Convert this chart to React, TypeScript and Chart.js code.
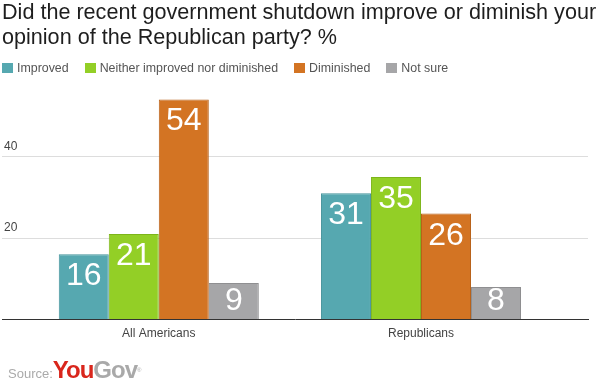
import React, { useEffect, useRef } from "react";
import { Chart, registerables } from "chart.js";

Chart.register(...registerables);

const FONT = '"Liberation Sans", Arial, sans-serif';

const titleLines = [
  "Did the recent government shutdown improve or diminish your",
  "opinion of the Republican party? %",
];
const categories = ["All Americans", "Republicans"];
const seriesNames = ["Improved", "Neither improved nor diminished", "Diminished", "Not sure"];
const improved = [16, 31];
const neither = [21, 35];
const diminished = [54, 26];
const notSure = [9, 8];
const yTickLabels = [20, 40];
const fillColors = ["#56a8b0", "#93cf26", "#d37423", "#a6a6a8"];
const borderColors = ["#44939a", "#7db51a", "#b8621a", "#8f8f91"];

const seriesValues = [improved, neither, diminished, notSure];

const valueLabels = {
  id: "valueLabels",
  afterDatasetsDraw(chart: any) {
    const ctx = chart.ctx;
    const zeroY = chart.scales.y.getPixelForValue(0);
    ctx.save();
    ctx.font = `32px ${FONT}`;
    ctx.fillStyle = "#ffffff";
    ctx.textAlign = "center";
    ctx.textBaseline = "alphabetic";
    chart.data.datasets.forEach((ds: any, di: number) => {
      chart.getDatasetMeta(di).data.forEach((el: any, i: number) => {
        const v = ds.data[i].y;
        const y = Math.min(el.y + 31, zeroY - 10);
        ctx.fillText(String(v), el.x, y);
      });
    });
    ctx.restore();
  },
};

export default function App() {
  const ref = useRef<HTMLCanvasElement | null>(null);

  useEffect(() => {
    if (!ref.current) return;
    const chart = new Chart(ref.current, {
      type: "bar",
      data: {
        datasets: seriesValues.map((vals, si) => ({
          label: seriesNames[si],
          data: vals.map((v, i) => ({ x: i, y: v })),
          backgroundColor: fillColors[si],
          borderColor: borderColors[si],
          borderWidth: 1,
          categoryPercentage: 0.763,
          barPercentage: 1,
        })),
      },
      options: {
        responsive: false,
        animation: false,
        devicePixelRatio: 1,
        layout: { padding: { left: 2, right: 12, top: 75, bottom: 37 } },
        plugins: {
          legend: { display: false },
          title: { display: false },
          tooltip: { enabled: false },
        },
        scales: {
          x: {
            type: "linear",
            offset: false,
            min: -0.598,
            max: 1.637,
            grid: { display: false, drawTicks: false },
            border: { display: true, color: "#333333", width: 1 },
            afterBuildTicks: (scale: any) => {
              scale.ticks = categories.map((_, i) => ({ value: i }));
            },
            ticks: {
              autoSkip: false,
              maxRotation: 0,
              padding: 7,
              color: "#444444",
              font: { family: FONT, size: 12 },
              callback: (v: any) => categories[v] ?? "",
            },
          },
          y: {
            min: 0,
            max: 60,
            afterFit: (scale: any) => {
              scale.width = 0;
            },
            grid: {
              drawTicks: false,
              color: (c: any) =>
                c.tick && yTickLabels.includes(c.tick.value) ? "#dddddd" : "rgba(0,0,0,0)",
            },
            border: { display: false },
            ticks: {
              stepSize: 20,
              mirror: true,
              padding: 2,
              labelOffset: -10,
              color: "#444444",
              font: { family: FONT, size: 12 },
              callback: (v: any) => (yTickLabels.includes(v) ? String(v) : ""),
            },
          },
        },
      } as any,
      plugins: [valueLabels],
    });
    return () => chart.destroy();
  }, []);

  return (
    <div
      style={{
        position: "fixed",
        left: 0,
        top: 0,
        width: 600,
        height: 385,
        background: "#ffffff",
        fontFamily: FONT,
        overflow: "hidden",
      }}
    >
      <canvas ref={ref} width={600} height={385} style={{ position: "absolute", left: 0, top: 0 }} />
      <div
        style={{
          position: "absolute",
          left: 2,
          top: -1,
          fontSize: 21.6,
          lineHeight: "25px",
          color: "#1e1e1e",
          whiteSpace: "nowrap",
        }}
      >
        {titleLines.map((t, i) => (
          <div key={i}>{t}</div>
        ))}
      </div>
      <div
        style={{
          position: "absolute",
          left: 2,
          top: 61,
          display: "flex",
          alignItems: "center",
          fontSize: 12.4,
          lineHeight: "14px",
          color: "#555555",
          whiteSpace: "nowrap",
        }}
      >
        {seriesNames.map((n, i) => (
          <div key={n} style={{ display: "flex", alignItems: "center", marginRight: 16 }}>
            <span
              style={{
                display: "inline-block",
                width: 11,
                height: 10,
                background: fillColors[i],
                marginRight: 4,
              }}
            />
            <span>{n}</span>
          </div>
        ))}
      </div>
      <div
        style={{
          position: "absolute",
          left: 8,
          top: 357,
          lineHeight: "26px",
          whiteSpace: "nowrap",
        }}
      >
        <span style={{ fontSize: 13, color: "#aaaaaa" }}>Source:</span>
        <span style={{ fontSize: 24, fontWeight: "bold", color: "#d9261c", letterSpacing: -1 }}>You</span>
        <span style={{ fontSize: 24, fontWeight: "bold", color: "#a9a9a9", letterSpacing: -1 }}>Gov</span>
        <span style={{ fontSize: 6, color: "#aaaaaa", verticalAlign: "top" }}>®</span>
      </div>
    </div>
  );
}
